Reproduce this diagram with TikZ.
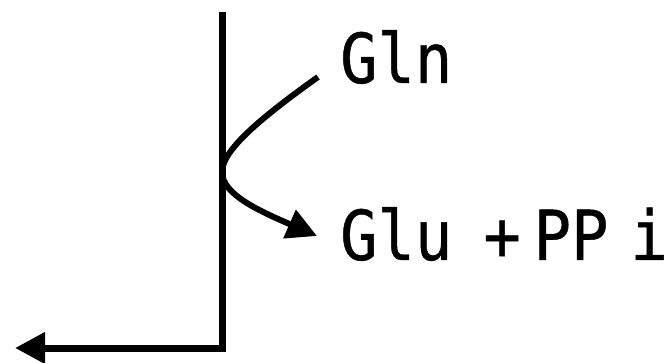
\documentclass[tikz,border=0pt]{standalone}
\usepackage{fontspec}
\usetikzlibrary{arrows.meta}
\newfontfamily\labfont[FakeStretch=0.9,FakeBold=0.6]{DejaVu Sans Mono}
\begin{document}
\begin{tikzpicture}[x=1pt,y=-1pt,
  mainline/.style={line width=7pt,line join=miter},
  curveline/.style={line width=6pt},
  bigtip/.style={-{Triangle[length=30pt,width=30pt]}},
  lab/.style={anchor=base west,inner sep=0pt,font=\labfont\fontsize{69}{71}\selectfont}]
\useasboundingbox (0,0) rectangle (669,363);
\coordinate (top) at (222,12);
\coordinate (corner) at (222,348);
\coordinate (left) at (15,348);
\coordinate (cs) at (318,77);
\coordinate (cm) at (222,172);
\coordinate (ce) at (317,236);
\node[lab] (gln) at (340,83) {Gln};
\node[lab] (glu) at (340,260) {Glu\kern 31pt+\kern 13pt PP\kern 22pt i};
\draw[mainline,bigtip] (top) -- (corner) -- (left);
\draw[curveline,bigtip] (cs) .. controls (262,117) and (222,150) .. (cm)
  .. controls (222,195) and (262,212) .. (ce);
\end{tikzpicture}
\end{document}
